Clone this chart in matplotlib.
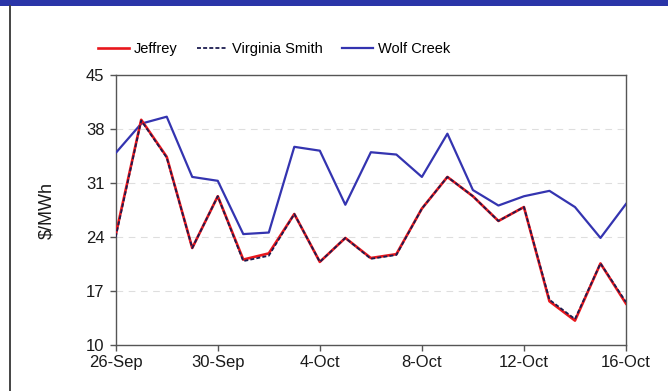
import matplotlib
matplotlib.use("Agg")
import matplotlib.pyplot as plt
import matplotlib.dates as mdates
import pandas as pd
from matplotlib.patches import Rectangle
from matplotlib.lines import Line2D

plt.rcParams['font.family'] = ['Liberation Sans', 'DejaVu Sans']

dates = pd.date_range("2007-09-26", "2007-10-16", freq="D")

jeffrey = [24.3, 39.2, 34.4, 22.6, 29.3, 21.1, 21.9, 27.0, 20.8, 23.9, 21.3,
           21.8, 27.7, 31.8, 29.3, 26.1, 27.9, 15.7, 13.2, 20.6, 15.4]
virginia_smith = [24.0, 39.1, 34.3, 22.6, 29.3, 20.9, 21.6, 27.0, 20.8, 23.9, 21.2,
                  21.7, 27.7, 31.8, 29.3, 26.1, 27.9, 15.9, 13.4, 20.6, 15.6]
wolf_creek = [34.9, 38.7, 39.6, 31.8, 31.3, 24.4, 24.6, 35.7, 35.2, 28.2, 35.0,
              34.7, 31.8, 37.4, 30.1, 28.1, 29.3, 30.0, 27.9, 23.9, 28.3]

y_ticks = [10, 17, 24, 31, 38, 45]

fig = plt.figure(figsize=(6.68, 3.91), dpi=100)
fig.patch.set_facecolor("white")

# header band and side frame
fig.add_artist(Rectangle((0, 1 - 6 / 391), 1, 6 / 391, transform=fig.transFigure,
                         facecolor="#2a35a8", edgecolor="none"))
fig.add_artist(Line2D([10 / 668, 10 / 668], [0, 1 - 6 / 391], transform=fig.transFigure,
                      color="#444444", lw=1.4))

ax = fig.add_axes([115.7 / 668, 1 - 345.3 / 391, (626 - 115.7) / 668, (345.3 - 75) / 391])

ax.plot(dates, wolf_creek, color="#3434b0", lw=1.6, label="Wolf Creek", zorder=3)
ax.plot(dates, jeffrey, color="#e8161c", lw=1.9, label="Jeffrey", zorder=4)
ax.plot(dates, virginia_smith, color="#1c1c50", lw=1.3, ls=(0, (2.2, 1.2)),
        label="Virginia Smith", zorder=5)

ax.set_xlim(dates[0], dates[-1])
ax.set_ylim(10, 45)
ax.set_yticks(y_ticks)
ax.set_xticks(dates[::4])
ax.xaxis.set_major_formatter(mdates.DateFormatter("%-d-%b"))

for s in ax.spines.values():
    s.set_color("#555555")
    s.set_linewidth(1.0)
ax.tick_params(axis="both", direction="out", length=4, width=1, color="#555555",
               labelsize=12, labelcolor="#1a1a1a")
ax.tick_params(axis="x", pad=3)
ax.tick_params(axis="y", pad=4)

ax.grid(axis="y", color="#dedede", ls=(0, (6, 5)), lw=0.8)
ax.set_axisbelow(True)

ax.set_ylabel("$/MWh", fontsize=13, color="#1a1a1a", labelpad=22)

handles, labels = ax.get_legend_handles_labels()
order = [1, 2, 0]
fig.legend([handles[i] for i in order], [labels[i] for i in order],
           loc="center", bbox_to_anchor=(274 / 668, 1 - 49 / 391), ncol=3,
           frameon=False, fontsize=10.5, handlelength=2.1, handletextpad=0.35,
           columnspacing=1.3)

fig.savefig("out.png", dpi=100)
